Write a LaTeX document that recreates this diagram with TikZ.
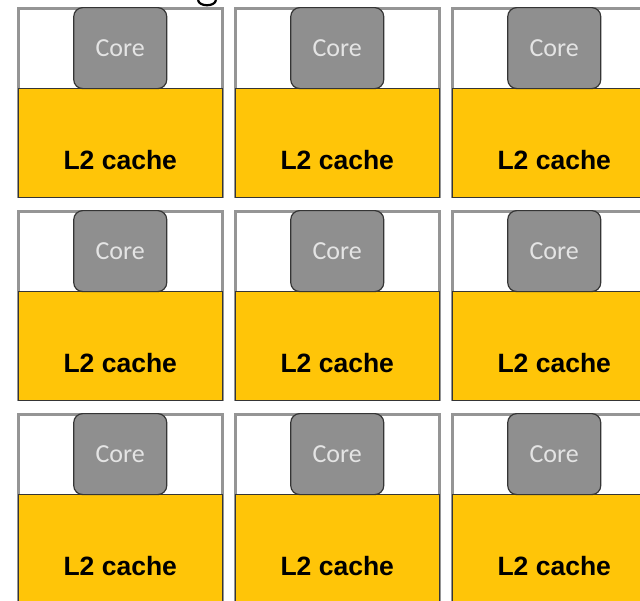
\documentclass[tikz,border=0pt]{standalone}
\usepackage{fontspec}
\setmainfont{Carlito}
\newfontfamily\cachefont{Liberation Sans}
\usetikzlibrary{positioning}
\definecolor{tileCache}{HTML}{FFC508}
\definecolor{tileCore}{HTML}{8F8F8F}
\definecolor{tileCoreText}{HTML}{E4E4E4}
\definecolor{tileEdge}{HTML}{959595}
\definecolor{tileDark}{HTML}{353535}

\begin{document}
\begin{tikzpicture}[
    x=1pt,y=-1pt,
    tilebox/.style={draw=tileEdge,line width=2.5pt,fill=white,inner sep=0pt,
      minimum width=204pt,minimum height=188pt,anchor=north west},
    cachebox/.style={draw=tileDark,line width=1pt,fill=tileCache,inner sep=0pt,
      minimum width=204pt,minimum height=109pt,anchor=south},
    cachetext/.style={font=\cachefont\bfseries\fontsize{26.5}{30}\selectfont,text=black},
    corebox/.style={draw=tileDark,line width=1.2pt,fill=tileCore,rounded corners=9pt,
      minimum width=93pt,minimum height=81pt,inner sep=0pt,
      text=tileCoreText,font=\fontsize{26}{30}\selectfont},
  ]
  \useasboundingbox (0,0) rectangle (640,600);
  \clip (0,0) rectangle (640,600);

  % Tiles: 3 x 3 grid, each a core on top of its L2 cache
  \foreach \col/\x in {1/17,2/234,3/451}{
    \foreach \row/\y in {1/7,2/210,3/413}{
      \node[tilebox] (tile-\row-\col) at (\x,\y) {};
      \node[cachebox] (cache-\row-\col) at (tile-\row-\col.south) {};
      \node[cachetext] (l2-\row-\col) at ([yshift=37pt]tile-\row-\col.south) {L2 cache};
      \node[corebox,below=0pt of tile-\row-\col.north] (core-\row-\col) {Core};
    }
  }

  % Cut-off glyph at the top edge
  \draw[line width=2.2pt] (198,0) .. controls (199,7) and (215,7) .. (216,0);
\end{tikzpicture}
\end{document}
